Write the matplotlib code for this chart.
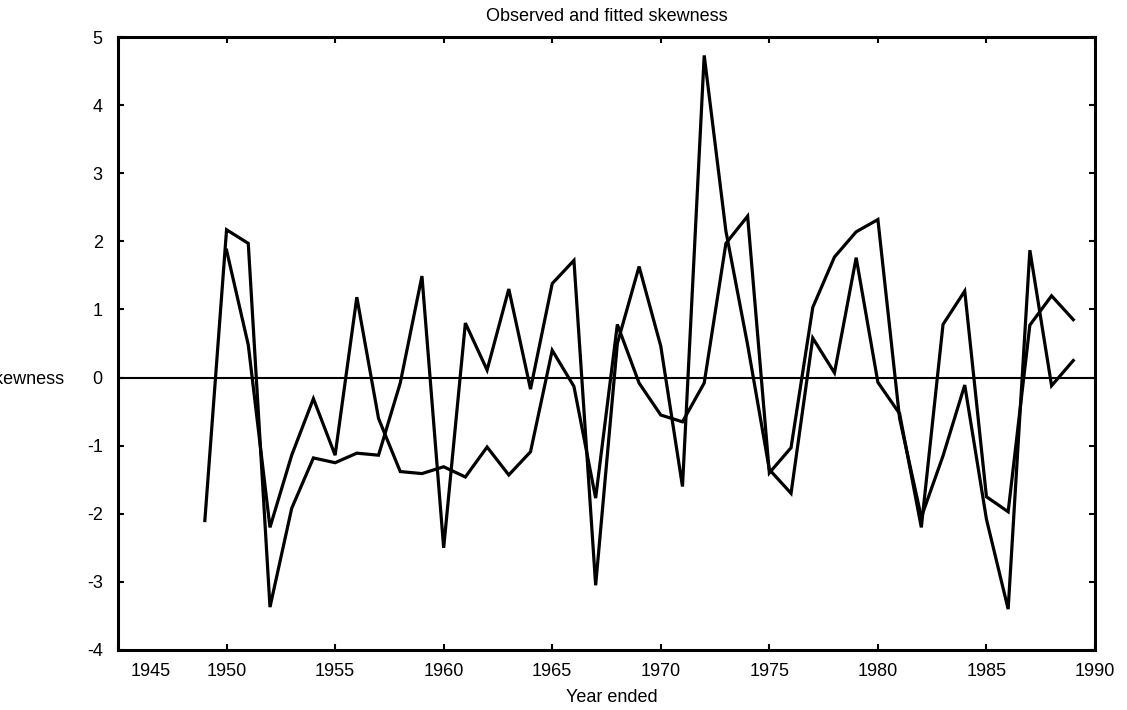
import matplotlib
matplotlib.use("Agg")
import matplotlib.pyplot as plt
from matplotlib.transforms import ScaledTranslation

plt.rcParams['font.family'] = ['Liberation Sans', 'DejaVu Sans']
plt.rcParams['axes.unicode_minus'] = False

# Skewness series, one value per year
years_a = list(range(1949, 1990))
skew_a = [-2.10, 2.17, 1.97, -3.37, -1.92, -1.18, -1.25, -1.11, -1.14, -0.08,
          1.49, -2.50, 0.80, 0.11, 1.30, -0.17, 1.38, 1.72, -3.05, 0.50,
          1.63, 0.46, -1.60, 4.73, 2.15, 0.48, -1.35, -1.70, 0.58, 0.07,
          1.76, -0.07, -0.53, -2.20, 0.78, 1.27, -1.75, -1.97, 0.77, 1.20,
          0.85]

years_b = list(range(1950, 1990))
skew_b = [1.87, 0.48, -2.20, -1.14, -0.31, -1.14, 1.18, -0.60, -1.38, -1.41,
          -1.31, -1.46, -1.02, -1.43, -1.09, 0.40, -0.13, -1.77, 0.78, -0.08,
          -0.55, -0.65, -0.08, 1.97, 2.37, -1.40, -1.03, 1.03, 1.77, 2.14,
          2.32, -0.60, -2.05, -1.15, -0.11, -2.08, -3.40, 1.87, -0.12, 0.25]

x_ticks = list(range(1945, 1991, 5))
y_ticks = list(range(-4, 6))

fig = plt.figure(figsize=(11.27, 7.10), dpi=100)
ax = fig.add_axes([118 / 1127, 1 - 650 / 710, (1095 - 118) / 1127, (650 - 37) / 710])

ax.axhline(0, color='black', lw=1.5, zorder=1)
ax.plot(years_a, skew_a, color='black', lw=2.3, solid_joinstyle='miter', zorder=2)
ax.plot(years_b, skew_b, color='black', lw=2.3, solid_joinstyle='miter', zorder=2)

ax.set_xlim(1945, 1990)
ax.set_ylim(-4, 5)
ax.set_xticks(x_ticks)
ax.set_yticks(y_ticks)
ax.tick_params(direction='in', length=4, width=1.5, top=True, right=True,
               labelsize=13)
ax.tick_params(axis='x', pad=9)
ax.tick_params(axis='y', pad=11)
for s in ax.spines.values():
    s.set_linewidth(2.2)

# first year label sits clear of the corner, to the right of its tick
first = ax.get_xticklabels()[0]
first.set_transform(first.get_transform() + ScaledTranslation(0.33, 0, fig.dpi_scale_trans))

fig.text(607 / 1127, 1 - 21 / 710, 'Observed and fitted skewness',
         ha='center', va='baseline', fontsize=13)
fig.text(612 / 1127, 1 - 697 / 710, 'Year ended', ha='center', va='center',
         fontsize=13)
fig.text(64 / 1127, 1 - 380 / 710, 'Skewness', ha='right', va='center',
         fontsize=13)

fig.savefig('out.png', dpi=100)
